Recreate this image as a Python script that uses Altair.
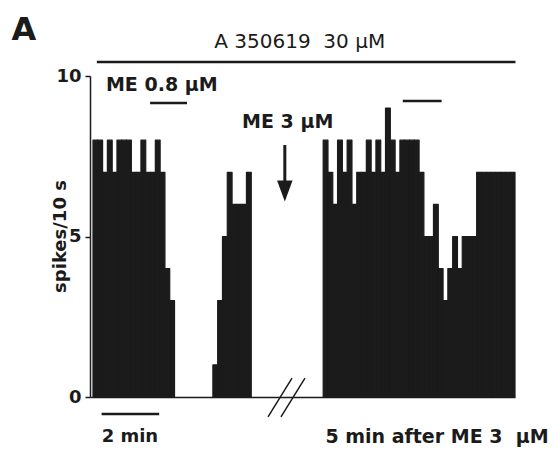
import altair as alt
import pandas as pd

# ---------------- data (spikes per 10 s bin) ----------------
bin_s = 10
block1 = [8, 8, 7, 8, 7, 8, 8, 8, 7, 7, 8, 7, 7, 8, 7, 4, 3]          # A 350619 + ME 0.8 uM
silence = [0, 0, 0, 0, 0, 0, 0, 0]                                    # no firing
block2 = [1, 3, 5, 7, 6, 6, 6, 7]                                     # recovery
break_gap = [0, 0, 0, 0, 0, 0, 0, 0, 0, 0, 0, 0, 0, 0, 0]             # time break
block3 = [8, 7, 6, 8, 7, 8, 6, 7, 7, 8,
          7, 8, 7, 9, 8, 7, 8, 8, 8, 8,
          7, 5, 5, 6, 4, 3, 4, 5, 4, 5,
          5, 5, 7, 7, 7, 7, 7, 7, 7, 7]                               # 5 min after ME 3 uM

spikes = block1 + silence + block2 + break_gap + block3
df = pd.DataFrame({"t0": [i * bin_s for i in range(len(spikes))], "spikes": spikes})
df["t1"] = df["t0"] + bin_s

# ---------------- annotations (in data units: s, spikes/10 s) ----------------
seg_x = [8, 119, 646, 18]
seg_x2 = [881, 196, 727, 138]
seg_y = [10.44, 9.16, 9.22, -0.53]
segs = pd.DataFrame({"x": seg_x, "x2": seg_x2, "y": seg_y})

arrow_t = [400]
arrow_top = [7.85]
arrow_bot = [6.7]
arrow_head_y = [6.42]
shaft = pd.DataFrame({"x": arrow_t, "y": arrow_top, "y2": arrow_bot})
head = pd.DataFrame({"x": arrow_t, "y": arrow_head_y})

brk = pd.DataFrame({"x": [365, 392], "x2": [415, 442], "y": [-0.62, -0.62], "y2": [0.59, 0.59]})

ink = "#1b1b1b"
FONT = "DejaVu Sans"
NB = "\u00a0"
xs = alt.Scale(domain=[-6.25, 880], nice=False, zero=False, padding=0)
ys = alt.Scale(domain=[0, 10], nice=False, zero=False, padding=0)
xaxis = alt.Axis(labels=False, ticks=False, title=None, grid=False, domainColor=ink, domainWidth=1.5)
yaxis = alt.Axis(values=[0, 5, 10], grid=False, title="spikes/10 s",
                 labelFont=FONT, labelFontSize=18, labelFontWeight="bold", labelColor=ink,
                 labelPadding=4, tickSize=5, tickWidth=1.5, tickColor=ink,
                 domainColor=ink, domainWidth=1.5,
                 titleFont=FONT, titleFontSize=18, titleFontWeight="bold", titleColor=ink,
                 titleX=-30, titleY=160, titleAngle=270, titleBaseline="middle",
                 titleAlign="center")


def X(f):
    return alt.X(f, scale=xs, axis=xaxis, title=None)


def Y(f):
    return alt.Y(f, scale=ys, axis=yaxis, title="spikes/10 s")


bars = alt.Chart(df).transform_filter("datum.spikes > 0").mark_bar(
    color=ink, stroke=ink, strokeWidth=1.2, strokeJoin="round", orient="vertical"
).encode(x=X("t0:Q"), x2="t1:Q", y=Y("spikes:Q"), y2=alt.datum(0))

rules = alt.Chart(segs).mark_rule(color=ink, strokeWidth=2.5).encode(
    x=X("x:Q"), x2="x2:Q", y=Y("y:Q")
)
shaft_m = alt.Chart(shaft).mark_rule(color=ink, strokeWidth=3).encode(
    x=X("x:Q"), y=Y("y:Q"), y2="y2:Q"
)
head_m = alt.Chart(head).mark_point(
    shape="M-1,-1.35L1,-1.35L0,1.35Z", filled=True, color=ink, size=240, opacity=1
).encode(x=X("x:Q"), y=Y("y:Q"))
brk_m = alt.Chart(brk).mark_rule(color=ink, strokeWidth=1.5).encode(
    x=X("x:Q"), x2="x2:Q", y=Y("y:Q"), y2="y2:Q"
)


def text_layer(labels, xv, yv, size, weight, align):
    d = pd.DataFrame({"x": xv, "y": yv, "label": labels})
    return alt.Chart(d).mark_text(font=FONT, fontSize=size, fontWeight=weight, color=ink,
                                  align=align, baseline="middle").encode(
        x=X("x:Q"), y=Y("y:Q"), text="label:N"
    )


panel = text_layer(["A"], [-144], [11.43], 32, "bold", "center")
title = text_layer(["A 350619" + NB + NB + "30 \u03bcM"], [431], [11.06], 20, "normal", "center")
me1 = text_layer(["ME 0.8 \u03bcM"], [27], [9.72], 19, "bold", "left")
me3 = text_layer(["ME 3 \u03bcM"], [406], [8.57], 19, "bold", "center")
lbl2 = text_layer(["2 min"], [77], [-1.25], 18, "bold", "center")
lbl5 = text_layer(["5 min after ME 3" + NB + NB + "\u03bcM"], [950], [-1.25], 19, "bold", "right")

chart = alt.layer(bars, rules, shaft_m, head_m, brk_m, panel, title, me1, me3, lbl2, lbl5).properties(
    width=425, height=321,
    autosize=alt.AutoSizeParams(type="none"),
    padding={"left": 82, "top": 68, "right": 35, "bottom": 52},
).configure_view(strokeWidth=0)

chart.save("out.html", embed_options={"renderer": "svg", "actions": False})
